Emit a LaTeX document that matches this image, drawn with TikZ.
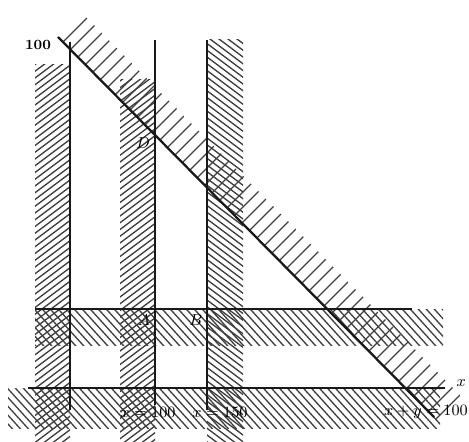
\documentclass[tikz,border=0pt]{standalone}
\usepackage{amsmath}
\usetikzlibrary{positioning}

\begin{document}
\begin{tikzpicture}[x=0.02cm, y=-0.02cm,
        bound/.style={line width=1.3pt, black!90},
        hatch/.style={line width=0.75pt, black!75},
        lbl/.style={font=\small, inner sep=1pt}]

        \useasboundingbox (0,0) rectangle (469,442);

        % Hatching left of x = 0
        \begin{scope}
            \clip (35,65) rectangle (70,441);
            \foreach \t in {-560,-551,...,80}
                \draw[hatch] (\t,450) -- ++(600,-450);
        \end{scope}

        % Hatching left of x = 100
        \begin{scope}
            \clip (120,80) rectangle (155,441);
            \foreach \t in {-480,-471,...,160}
                \draw[hatch] (\t,450) -- ++(600,-450);
        \end{scope}

        % Hatching right of x = 150
        \begin{scope}
            \clip (207,40) rectangle (243,441);
            \foreach \t in {-400,-391,...,250}
                \draw[hatch] (\t,0) -- ++(600,450);
        \end{scope}

        % Hatching below the upper horizontal
        \begin{scope}
            \clip (35,309) rectangle (443,345);
            \foreach \t in {-30,-22,...,440}
                \draw[hatch] (\t,300) -- ++(50,55);
        \end{scope}

        % Hatching below the lower horizontal
        \begin{scope}
            \clip (8,388) rectangle (440,428);
            \foreach \t in {-40,-32,...,440}
                \draw[hatch] (\t,380) -- ++(50,55);
        \end{scope}

        % Hatching above x + y = 100
        \begin{scope}
            \clip (60,39) -- (84,15) -- (464,399) -- (440,423) -- cycle;
            \foreach \t in {-370,-355,...,410}
                \draw[hatch] (\t,460) -- ++(460,-460);
        \end{scope}

        % Bounding lines
        \coordinate (v1top) at (70,42);
        \coordinate (v1bot) at (70,410);
        \coordinate (v2top) at (155,40);
        \coordinate (v2bot) at (155,405);
        \coordinate (v3top) at (207,40);
        \coordinate (v3bot) at (207,410);
        \coordinate (h1left) at (35,309);
        \coordinate (h1right) at (412,309);
        \coordinate (h2left) at (28,388);
        \coordinate (h2right) at (445,388);
        \coordinate (dtop) at (58,37);
        \coordinate (dbot) at (434,417);

        \draw[bound] (v1top) -- (v1bot);
        \draw[bound] (v2top) -- (v2bot);
        \draw[bound] (v3top) -- (v3bot);
        \draw[bound] (h1left) -- (h1right);
        \draw[bound] (h2left) -- (h2right);
        \draw[bound] (dtop) -- (dbot);

        % Labels
        \node[lbl, font=\footnotesize\bfseries] (l100) at (38,45) {100};
        \node[lbl] (lD) at (143,143) {$D$};
        \node[lbl] (lA) at (144,320) {$A$};
        \node[lbl] (lB) at (196,320) {$B$};
        \node[lbl] (lx100) at (148,412) {$x = 100$};
        \node[lbl] (lx150) at (220,412) {$x = 150$};
        \node[lbl] (lsum) at (426,412) {$x + y = 100$};
        \node[lbl, anchor=east] (lx) at (468,383) {$x$};

\end{tikzpicture}
\end{document}
